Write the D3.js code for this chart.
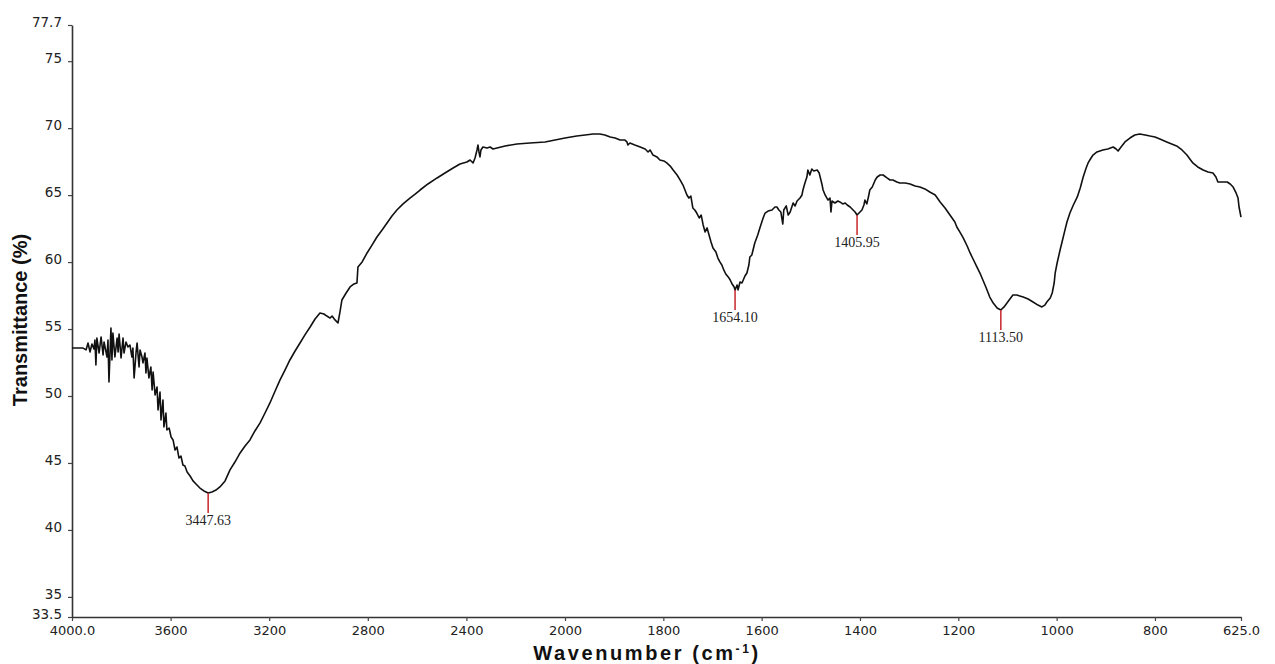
<!DOCTYPE html>
<html>
<head>
<meta charset="utf-8">
<script src="https://cdn.jsdelivr.net/npm/d3@7"></script>
<style>
  html, body { margin: 0; padding: 0; background: #fff; }
  svg { display: block; }
</style>
</head>
<body>
<svg id="chart" width="1275" height="664"></svg>
<script>
// FTIR spectrum: wavenumber (cm-1) vs. transmittance (%)
const wavenumber = [
  4000, 3955, 3943, 3935, 3927, 3919, 3911, 3907, 3903, 3899, 3890, 3882, 3874, 3870, 3858, 3854,
  3850, 3842, 3838, 3834, 3826, 3817, 3813, 3809, 3801, 3793, 3789, 3781, 3773, 3765, 3757, 3753,
  3748, 3740, 3736, 3728, 3724, 3716, 3712, 3704, 3700, 3696, 3688, 3680, 3675, 3671, 3663, 3655,
  3651, 3643, 3639, 3631, 3627, 3619, 3615, 3606, 3598, 3590, 3582, 3574, 3566, 3558, 3550, 3542,
  3533, 3521, 3509, 3497, 3481, 3465, 3447.63, 3432, 3416, 3400, 3379, 3359, 3339, 3318, 3298, 3278,
  3258, 3237, 3217, 3197, 3176, 3156, 3136, 3116, 3095, 3075, 3055, 3034, 3014, 2994, 2978, 2966,
  2953, 2945, 2933, 2921, 2913, 2905, 2888, 2872, 2856, 2844, 2840, 2823, 2803, 2783, 2763, 2742,
  2722, 2702, 2682, 2657, 2629, 2608, 2588, 2556, 2519, 2487, 2454, 2426, 2398, 2385, 2373, 2365,
  2357, 2353, 2349, 2345, 2341, 2333, 2316, 2304, 2292, 2276, 2243, 2195, 2142, 2081, 2020,
  2000, 1976, 1959, 1943, 1929, 1919, 1908, 1898, 1888, 1878, 1874, 1872, 1868, 1858, 1847, 1837,
  1831, 1827, 1821, 1813, 1807, 1799, 1793, 1786, 1780, 1772, 1766, 1760, 1756, 1752, 1748, 1744,
  1740, 1736, 1732, 1727, 1723, 1719, 1715, 1711, 1707, 1703, 1699, 1693, 1689, 1685, 1681, 1677,
  1673, 1668, 1664, 1660, 1656, 1654.10, 1650, 1648, 1644, 1640, 1634, 1630, 1626, 1624, 1620, 1614,
  1608, 1603, 1597, 1593, 1587, 1579, 1573, 1569, 1565, 1561, 1557, 1555, 1550, 1546, 1542, 1536,
  1532, 1528, 1522, 1518, 1516, 1512, 1508, 1506, 1502, 1498, 1494, 1487, 1483, 1481, 1477, 1475,
  1471, 1465, 1461, 1459, 1457, 1451, 1445, 1441, 1435, 1430, 1426, 1420, 1414, 1410, 1405.95, 1402,
  1396, 1392, 1390, 1386, 1382, 1380, 1375, 1369, 1365, 1359, 1353, 1345, 1339, 1333, 1325, 1319,
  1308, 1298, 1288, 1278, 1268, 1258, 1247, 1237, 1227, 1217, 1207, 1203, 1197, 1190, 1182, 1176,
  1170, 1162, 1156, 1150, 1144, 1136, 1129, 1121, 1113.50, 1107, 1101, 1095, 1089, 1081, 1075, 1068,
  1058, 1048, 1038, 1030, 1024, 1020, 1013, 1009, 1005, 1003, 999, 993, 989, 983, 979, 973,
  966, 958, 952, 946, 940, 936, 930, 926, 918, 906, 896, 885, 879, 875, 869, 861,
  851, 841, 831, 820, 810, 800, 790, 776, 766, 756, 745, 735, 729, 723, 713, 702,
  692, 682, 676, 672, 664, 653, 647, 641, 635, 631, 629, 627, 625
];

const transmittance = [
  53.58, 53.58, 53.44, 53.96, 53.29, 53.88, 53.51, 54.18, 52.32, 54.33, 53.21, 54.41, 53.06, 54.03, 52.91, 54.18,
  51.05, 55.08, 52.69, 54.70, 52.91, 54.33, 53.29, 54.63, 52.84, 54.33, 53.21, 54.03, 53.66, 53.81, 52.91, 53.58,
  51.35, 53.29, 53.96, 52.17, 53.44, 52.91, 52.47, 53.21, 51.72, 52.84, 51.35, 52.17, 50.45, 51.79, 50.08, 50.67,
  48.96, 50.30, 48.21, 49.70, 47.69, 48.73, 47.46, 47.61, 46.94, 46.72, 45.97, 46.19, 45.37, 45.52, 44.85, 44.77,
  44.33, 44.03, 43.66, 43.43, 43.13, 42.91, 42.76, 42.84, 42.98, 43.21, 43.66, 44.48, 45.07, 45.75, 46.27, 46.72,
  47.39, 47.99, 48.73, 49.48, 50.37, 51.20, 51.94, 52.69, 53.36, 53.96, 54.56, 55.15, 55.75, 56.20, 56.12, 55.97,
  55.82, 55.97, 55.68, 55.45, 56.27, 57.17, 57.69, 58.14, 58.37, 58.44, 59.63, 60.01, 60.68, 61.27, 61.87, 62.40,
  62.92, 63.44, 63.89, 64.34, 64.78, 65.08, 65.38, 65.83, 66.28, 66.65, 67.02, 67.32, 67.47, 67.62, 67.40, 67.77,
  68.37, 68.74, 68.22, 67.85, 68.37, 68.59, 68.52, 68.59, 68.44, 68.52, 68.67, 68.82, 68.89, 68.97, 69.19,
  69.26, 69.41, 69.49, 69.56, 69.56, 69.49, 69.34, 69.26, 69.11, 69.11, 68.97, 68.74, 68.89, 68.74, 68.59, 68.44,
  68.22, 68.37, 67.99, 67.85, 67.62, 67.55, 67.40, 67.17, 66.87, 66.50, 66.13, 65.75, 65.38, 65.01, 64.78, 64.93,
  64.04, 63.89, 63.66, 63.29, 63.51, 62.77, 62.25, 62.55, 62.02, 61.50, 61.05, 60.75, 60.30, 60.01, 59.78, 59.41,
  59.11, 58.89, 58.66, 58.36, 58.14, 57.92, 58.29, 57.92, 58.51, 58.44, 58.96, 59.18, 59.78, 60.38, 60.53, 61.42,
  62.02, 62.62, 63.29, 63.66, 63.81, 63.89, 64.11, 64.11, 63.89, 63.74, 62.84, 63.89, 64.19, 63.51, 63.74, 64.41,
  64.19, 64.56, 64.78, 65.01, 65.38, 65.90, 66.35, 66.87, 66.50, 66.95, 66.80, 66.87, 66.65, 66.35, 65.75, 65.38,
  65.01, 64.63, 64.78, 63.74, 64.56, 64.41, 64.56, 64.49, 64.34, 64.41, 64.26, 64.11, 63.89, 63.74, 63.51, 63.66,
  63.89, 64.26, 64.63, 64.34, 65.01, 65.38, 65.60, 66.13, 66.35, 66.50, 66.50, 66.28, 66.13, 66.13, 65.98, 65.90,
  65.90, 65.83, 65.68, 65.60, 65.46, 65.23, 65.01, 64.49, 64.04, 63.51, 62.99, 62.62, 62.25, 61.80, 61.20, 60.68,
  60.23, 59.63, 59.18, 58.66, 58.14, 57.39, 56.94, 56.57, 56.42, 56.65, 56.94, 57.24, 57.54, 57.54, 57.47, 57.39,
  57.24, 57.02, 56.79, 56.65, 56.79, 57.02, 57.32, 57.69, 58.44, 59.18, 59.93, 60.90, 61.50, 62.40, 62.99, 63.66,
  64.26, 64.86, 65.53, 66.35, 67.02, 67.40, 67.77, 67.99, 68.22, 68.37, 68.44, 68.59, 68.44, 68.29, 68.59, 68.97,
  69.26, 69.49, 69.56, 69.49, 69.41, 69.34, 69.19, 68.97, 68.82, 68.67, 68.37, 67.99, 67.70, 67.40, 67.10, 66.87,
  66.72, 66.65, 66.35, 65.98, 65.98, 65.98, 65.83, 65.60, 65.16, 64.78, 64.11, 63.74, 63.36
];

// Labelled absorption bands
const peakWavenumbers = [3447.63, 1654.10, 1405.95, 1113.50];
const peakTransmittance = [42.76, 57.92, 63.51, 56.42];
const peakLabels = ["3447.63", "1654.10", "1405.95", "1113.50"];

// Axis ticks
const xTickValues = [4000, 3600, 3200, 2800, 2400, 2000, 1800, 1600, 1400, 1200, 1000, 800, 625];
const xTickLabels = ["4000.0", "3600", "3200", "2800", "2400", "2000", "1800", "1600", "1400", "1200", "1000", "800", "625.0"];
const yTickValues = [33.5, 35, 40, 45, 50, 55, 60, 65, 70, 75, 77.7];
const yTickLabels = ["33.5", "35", "40", "45", "50", "55", "60", "65", "70", "75", "77.7"];

const svg = d3.select("#chart");

// Spectrometer-style split axis: 4000-2000 compressed, 2000-625 expanded
const x = d3.scaleLinear().domain([4000, 2000, 625]).range([72, 565, 1241]);
const y = d3.scaleLinear().domain([33.5, 77.7]).range([617, 25]);

const tickFont = "'DejaVu Sans', Verdana, sans-serif";

// X axis
const xAxis = d3.axisBottom(x)
  .tickValues(xTickValues)
  .tickFormat((d, i) => xTickLabels[i])
  .tickSizeInner(4)
  .tickSizeOuter(0)
  .tickPadding(5);
const gx = svg.append("g").attr("transform", `translate(0,${y(33.5)})`).call(xAxis);
gx.select(".domain").attr("stroke", "#333").attr("stroke-width", 1.6);
gx.selectAll(".tick line").attr("stroke", "#444").attr("stroke-width", 1.2);
gx.selectAll(".tick text")
  .attr("font-family", tickFont).attr("font-size", 13).attr("fill", "#222");

// Y axis
const yAxis = d3.axisLeft(y)
  .tickValues(yTickValues)
  .tickFormat((d, i) => yTickLabels[i])
  .tickSizeInner(4)
  .tickSizeOuter(0)
  .tickPadding(6);
const gy = svg.append("g").attr("transform", `translate(${x(4000)},0)`).call(yAxis);
gy.select(".domain").attr("stroke", "#333").attr("stroke-width", 1.6);
gy.selectAll(".tick line").attr("stroke", "#444").attr("stroke-width", 1.2);
gy.selectAll(".tick text")
  .attr("font-family", tickFont).attr("font-size", 13.5).attr("fill", "#222")
  .attr("dy", "0.1em");

// Axis titles
const xTitle = svg.append("text")
  .attr("x", 647).attr("y", 660)
  .attr("text-anchor", "middle")
  .attr("font-family", "'Liberation Sans', Arial, sans-serif")
  .attr("font-weight", "bold").attr("font-size", 20)
  .attr("letter-spacing", 2.6)
  .attr("fill", "#111");
xTitle.append("tspan").text("Wavenumber (cm");
xTitle.append("tspan").attr("dy", -7).attr("font-size", 12).text("-1");
xTitle.append("tspan").attr("dy", 7).text(")");

svg.append("text")
  .attr("transform", "translate(27,320) rotate(-90)")
  .attr("text-anchor", "middle")
  .attr("font-family", "'Liberation Sans', Arial, sans-serif")
  .attr("font-weight", "bold").attr("font-size", 20)
  .attr("fill", "#111")
  .text("Transmittance (%)");

// Spectrum trace
const points = wavenumber.map((w, i) => [w, transmittance[i]]);
const line = d3.line().x(d => x(d[0])).y(d => y(d[1]));
svg.append("path")
  .datum(points)
  .attr("fill", "none")
  .attr("stroke", "#111")
  .attr("stroke-width", 1.6)
  .attr("stroke-linejoin", "round")
  .attr("d", line);

// Peak markers and labels
const peaks = peakWavenumbers.map((w, i) => ({ w, t: peakTransmittance[i], label: peakLabels[i] }));
const pg = svg.append("g").selectAll("g").data(peaks).join("g");
pg.append("line")
  .attr("x1", d => x(d.w)).attr("x2", d => x(d.w))
  .attr("y1", d => y(d.t)).attr("y2", d => y(d.t) + 20)
  .attr("stroke", "#c8262b").attr("stroke-width", 1.5);
pg.append("text")
  .attr("x", d => x(d.w)).attr("y", d => y(d.t) + 32)
  .attr("text-anchor", "middle")
  .attr("font-family", "'Liberation Serif', 'Times New Roman', serif")
  .attr("font-size", 14).attr("fill", "#222")
  .text(d => d.label);
</script>
</body>
</html>
